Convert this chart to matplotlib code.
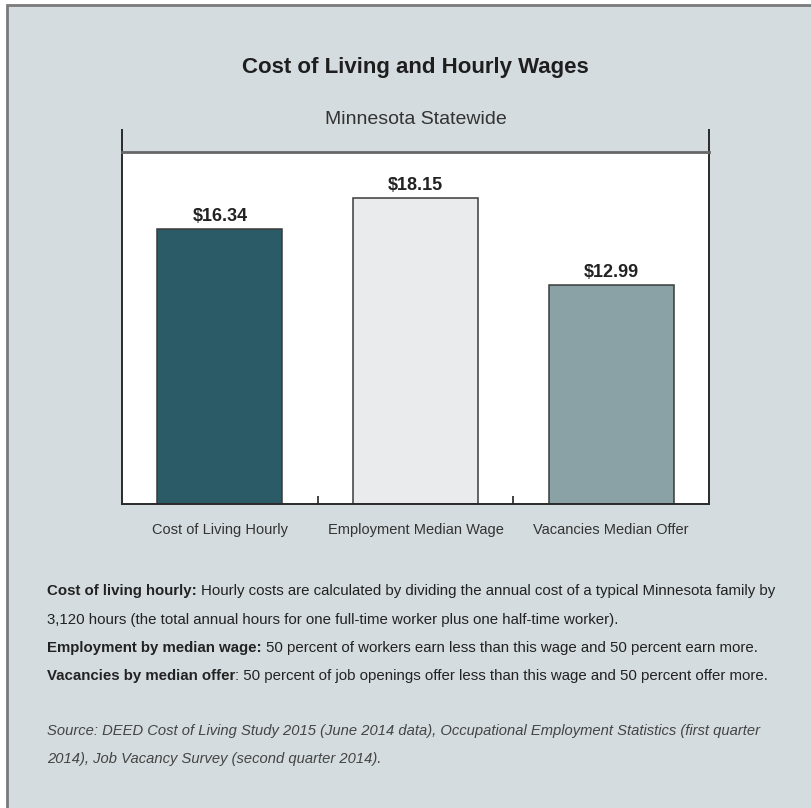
"""Cost of Living and Hourly Wages - Minnesota Statewide (bar chart + notes)."""
import matplotlib
matplotlib.use("Agg")
import matplotlib.pyplot as plt
from matplotlib.patches import Rectangle
from matplotlib import font_manager

W, H = 812, 808
BG = "#d4dcdf"

categories = ["Cost of Living Hourly", "Employment Median Wage", "Vacancies Median Offer"]
values = [16.34, 18.15, 12.99]
bar_colors = ["#2a5b66", "#e9ebed", "#8aa1a6"]

title = "Cost of Living and Hourly Wages"
subtitle = "Minnesota Statewide"

# cada linha: lista de (texto, peso, estilo)
notes = [
    [("Cost of living hourly:", "bold", "normal"),
     (" Hourly costs are calculated by dividing the annual cost of a typical Minnesota family by", "normal", "normal")],
    [("3,120 hours (the total annual hours for one full-time worker plus one half-time worker).", "normal", "normal")],
    [("Employment by median wage:", "bold", "normal"),
     (" 50 percent of workers earn less than this wage and 50 percent earn more.", "normal", "normal")],
    [("Vacancies by median offer", "bold", "normal"),
     (": 50 percent of job openings offer less than this wage and 50 percent offer more.", "normal", "normal")],
]
source = [
    "Source: DEED Cost of Living Study 2015 (June 2014 data), Occupational Employment Statistics (first quarter",
    "2014), Job Vacancy Survey (second quarter 2014).",
]

names = {f.name for f in font_manager.fontManager.ttflist}
FAMILY = [f for f in ["Liberation Sans Narrow", "Liberation Sans", "DejaVu Sans"] if f in names]
plt.rcParams["font.family"] = FAMILY


def px(x, y):
    return x / W, 1 - y / H


def draw_runs(fig, renderer, x, y, parts, size, color):
    """Escreve trechos com pesos diferentes lado a lado na mesma linha (y = linha de base)."""
    cur = x
    for txt, weight, style in parts:
        lead = len(txt) - len(txt.lstrip(" "))
        if lead:
            sp = fig.text(0, 0, "a a", fontsize=size, fontweight=weight, fontstyle=style)
            sp2 = fig.text(0, 0, "aa", fontsize=size, fontweight=weight, fontstyle=style)
            cur += (sp.get_window_extent(renderer).width - sp2.get_window_extent(renderer).width) * lead
            sp.remove(); sp2.remove()
        t = fig.text(*px(cur, y), txt.lstrip(" "), fontsize=size, fontweight=weight,
                     fontstyle=style, color=color, ha="left", va="baseline")
        cur += t.get_window_extent(renderer).width


def main():
    fig = plt.figure(figsize=(W / 100, H / 100), dpi=100, facecolor="white")
    fig.patches.append(Rectangle(px(7, 5), 2, -2, transform=fig.transFigure,
                                 facecolor=BG, edgecolor="#7a7a7a", lw=2, zorder=-5))

    left, right, top, bottom = 122, 709, 152, 504
    ax = fig.add_axes([left / W, 1 - bottom / H, (right - left) / W, (bottom - top) / H])
    ax.set_facecolor("white")
    x = [i + 0.5 for i in range(len(values))]
    ax.bar(x, values, width=0.64, color=bar_colors, edgecolor="#3a3a3a", lw=1.1, zorder=2)
    for xi, v in zip(x, values):
        ax.annotate(f"${v:.2f}", (xi, v), xytext=(0, 3), textcoords="offset points",
                    ha="center", va="bottom", fontsize=13, fontweight="bold", color="#222222")
    ax.set_xlim(0, 3)
    ax.set_ylim(0, 20.9)
    ax.set_yticks([])
    ax.set_xticks(x)
    ax.set_xticklabels(categories, fontsize=10.5, color="#333333")
    ax.tick_params(axis="x", which="major", length=0, pad=14)
    ax.set_xticks([1, 2], minor=True)
    ax.tick_params(axis="x", which="minor", direction="in", length=6, width=1.2, color="#222222")
    for s in ("left", "right", "bottom"):
        ax.spines[s].set_color("#2a2a2a")
        ax.spines[s].set_linewidth(1.4)
    ax.spines["top"].set_color("#666666")
    ax.spines["top"].set_linewidth(2)
    # laterais sobem acima do topo do quadro
    ext = 1 + (top - 129) / (bottom - top)
    for xs in (0, 1):
        ax.plot([xs, xs], [1, ext], transform=ax.transAxes, color="#2a2a2a",
                lw=1.4, clip_on=False, solid_capstyle="butt")

    cx = (left + right) / 2
    fig.text(*px(cx, 67), title, ha="center", va="center", fontsize=16,
             fontweight="bold", color="#1e1e1e")
    fig.text(*px(cx, 119), subtitle, ha="center", va="center", fontsize=14,
             color="#333333")

    renderer = fig.canvas.get_renderer()
    for parts, y in zip(notes, [595, 624, 652, 680]):
        draw_runs(fig, renderer, 47, y, parts, 10.8, "#222222")
    for line, y in zip(source, [735, 763]):
        draw_runs(fig, renderer, 47, y, [(line, "normal", "italic")], 10.6, "#444444")

    fig.savefig("out.png", dpi=100, facecolor=fig.get_facecolor())


if __name__ == "__main__":
    main()
